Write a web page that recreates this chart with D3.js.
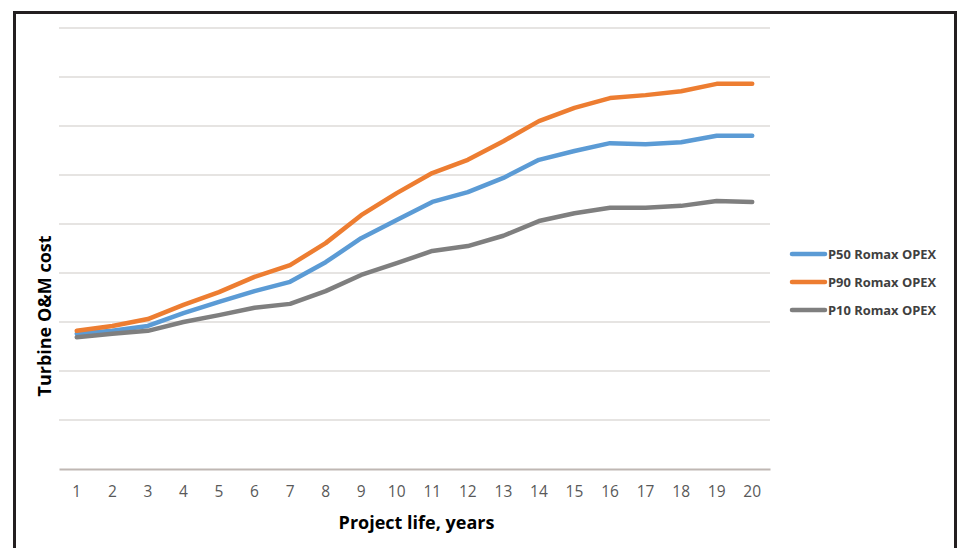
<!DOCTYPE html>
<html>
<head>
<meta charset="utf-8">
<script src="https://cdn.jsdelivr.net/npm/d3@7"></script>
<style>
  body { margin: 0; background: #fff; }
  svg { display: block; }
</style>
</head>
<body>
<svg id="chart" width="964" height="548"></svg>
<script>
// values (no y labels in the source, arbitrary units)
const years = d3.range(1, 21);
const p50 = [27.6, 28.2, 29.2, 31.8, 34.1, 36.3, 38.2, 42.2, 47.1, 50.8, 54.5, 56.5, 59.4, 63.1, 64.9, 66.5, 66.3, 66.7, 68.0, 68.0];
const p90 = [28.2, 29.2, 30.6, 33.5, 36.1, 39.2, 41.6, 46.1, 51.8, 56.3, 60.4, 63.1, 66.9, 71.0, 73.7, 75.7, 76.3, 77.1, 78.6, 78.6];
const p10 = [26.9, 27.6, 28.2, 30.0, 31.4, 32.9, 33.7, 36.3, 39.6, 42.0, 44.5, 45.5, 47.6, 50.6, 52.2, 53.3, 53.3, 53.7, 54.7, 54.5];
const yTicks = d3.range(0, 100, 10);

const series = [
    { name: "P50 Romax OPEX", values: p50, color: "#5b9bd5" },
    { name: "P90 Romax OPEX", values: p90, color: "#ed7d31" },
    { name: "P10 Romax OPEX", values: p10, color: "#7f7f7f" }
];

const svg = d3.select("#chart");

// outer frame
svg.append("rect")
    .attr("x", 14.5).attr("y", 12.5)
    .attr("width", 941).attr("height", 600)
    .attr("fill", "none")
    .attr("stroke", "#231f20")
    .attr("stroke-width", 3);

const plot = { left: 59, right: 770, top: 28, bottom: 469 };

const x = d3.scaleBand()
    .domain(years)
    .range([plot.left, plot.right]);

const y = d3.scaleLinear()
    .domain([0, 90])
    .range([plot.bottom, plot.top]);

// gridlines
svg.append("g")
    .selectAll("line")
    .data(yTicks.filter(d => d > 0))
    .join("line")
    .attr("x1", plot.left).attr("x2", plot.right)
    .attr("y1", d => y(d)).attr("y2", d => y(d))
    .attr("stroke", "#e6e4e2")
    .attr("stroke-width", 2);

// x axis
const xAxis = svg.append("g")
    .attr("transform", `translate(0, ${plot.bottom})`)
    .call(d3.axisBottom(x).tickSize(0).tickPadding(17));
xAxis.select(".domain").attr("stroke", "#bfb7b3").attr("stroke-width", 2);
xAxis.selectAll("text")
    .attr("fill", "#595959")
    .style("font-family", "'Open Sans', sans-serif")
    .style("font-size", "15.5px");

// lines
const line = d3.line()
    .x((d, i) => x(years[i]) + x.bandwidth() / 2)
    .y(d => y(d));

svg.append("g")
    .selectAll("path")
    .data(series)
    .join("path")
    .attr("fill", "none")
    .attr("stroke", d => d.color)
    .attr("stroke-width", 4.5)
    .attr("stroke-linejoin", "round")
    .attr("stroke-linecap", "round")
    .attr("d", d => line(d.values));

// axis titles
svg.append("text")
    .attr("x", (plot.left + plot.right) / 2 + 2)
    .attr("y", 529)
    .attr("text-anchor", "middle")
    .attr("fill", "#000")
    .style("font-family", "'Open Sans', sans-serif")
    .style("font-weight", "bold")
    .style("font-size", "18px")
    .text("Project life, years");

svg.append("text")
    .attr("transform", "translate(51, 316) rotate(-90)")
    .attr("text-anchor", "middle")
    .attr("fill", "#000")
    .style("font-family", "'Open Sans', sans-serif")
    .style("font-weight", "bold")
    .style("font-size", "18px")
    .text("Turbine O&M cost");

// legend
const legend = svg.append("g")
    .selectAll("g")
    .data(series)
    .join("g")
    .attr("transform", (d, i) => `translate(792, ${254 + i * 28})`);

legend.append("line")
    .attr("x1", 0).attr("x2", 33)
    .attr("stroke", d => d.color)
    .attr("stroke-width", 4.5)
    .attr("stroke-linecap", "round");

legend.append("text")
    .attr("x", 36)
    .attr("dy", "0.35em")
    .attr("fill", "#404040")
    .style("font-family", "'Open Sans', sans-serif")
    .style("font-weight", "bold")
    .style("font-size", "12.9px")
    .text(d => d.name);
</script>
</body>
</html>
